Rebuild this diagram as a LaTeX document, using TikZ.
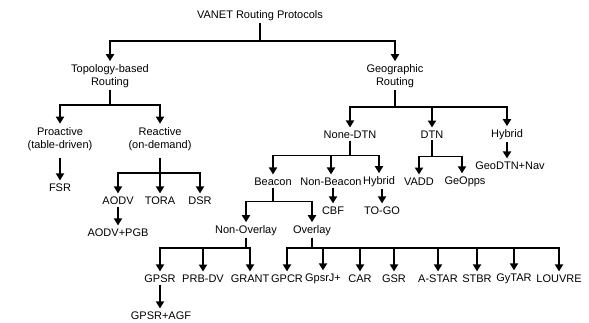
\documentclass[tikz,border=0pt]{standalone}
\usepackage{fontspec}
\setmainfont{Liberation Sans}
\usetikzlibrary{arrows.meta}

\begin{document}
\begin{tikzpicture}[x=1pt, y=-1pt,
                    lbl/.style={font=\fontsize{11}{13}\selectfont, inner sep=1.5pt, align=center},
                    link/.style={line width=1.8pt, shorten >=2pt, -{Triangle[width=8pt,length=7pt]}}
                ]
                    \useasboundingbox (0,0) rectangle (589,322);

                    \node[lbl] (root) at (260,16) {VANET Routing Protocols};
                    \node[lbl] (topo) at (110,76.5) {Topology-based\\Routing};
                    \node[lbl] (geo) at (395,76.5) {Geographic\\Routing};

                    \node[lbl] (pro) at (60,139) {Proactive\\(table-driven)};
                    \node[lbl] (rea) at (160,139) {Reactive\\(on-demand)};
                    \node[lbl] (fsr) at (60,188) {FSR};
                    \node[lbl] (aodv) at (118,201) {AODV};
                    \node[lbl] (tora) at (160,201) {TORA};
                    \node[lbl] (dsr) at (200,201) {DSR};
                    \node[lbl] (aodvpgb) at (118,233) {AODV+PGB};

                    \node[lbl] (nonedtn) at (350,135) {None-DTN};
                    \node[lbl] (dtn) at (432,135) {DTN};
                    \node[lbl] (hyb) at (507,135) {Hybrid};
                    \node[lbl] (geodtn) at (510,166) {GeoDTN+Nav};

                    \node[lbl] (beacon) at (273,182) {Beacon};
                    \node[lbl] (nonbeacon) at (331,182) {Non-Beacon};
                    \node[lbl] (hybrid) at (379,182) {Hybrid};
                    \node[lbl] (vadd) at (419,182) {VADD};
                    \node[lbl] (geopps) at (465,182) {GeOpps};
                    \node[lbl] (cbf) at (333,211) {CBF};
                    \node[lbl] (togo) at (382,211) {TO-GO};

                    \node[lbl] (nonov) at (246,231) {Non-Overlay};
                    \node[lbl] (ov) at (312,231) {Overlay};

                    \node[lbl] (gpsr) at (160,279) {GPSR};
                    \node[lbl] (prbdv) at (203,279) {PRB-DV};
                    \node[lbl] (grant) at (250,279) {GRANT};
                    \node[lbl] (gpcr) at (287,279) {GPCR};
                    \node[lbl] (gpsrj) at (323,279) {GpsrJ+};
                    \node[lbl] (car) at (360,279) {CAR};
                    \node[lbl] (gsr) at (394,279) {GSR};
                    \node[lbl] (astar) at (438,279) {A-STAR};
                    \node[lbl] (stbr) at (477,279) {STBR};
                    \node[lbl] (gytar) at (514,279) {GyTAR};
                    \node[lbl] (louvre) at (559,279) {LOUVRE};
                    \node[lbl] (gpsragf) at (161,316) {GPSR+AGF};

                    \draw[link] (root.south) -- ++(0,18) -| (topo.north);
                    \draw[link] (root.south) -- ++(0,18) -| (geo.north);

                    \draw[link] (topo.south) -- ++(0,15) -| (pro.north);
                    \draw[link] (topo.south) -- ++(0,15) -| (rea.north);
                    \draw[link] (pro.south) ++(0,6) -- (fsr.north);
                    \draw[link] (rea.south) ++(0,6) -- ++(0,15) -| (aodv.north);
                    \draw[link] (rea.south) ++(0,6) -- (tora.north);
                    \draw[link] (rea.south) ++(0,6) -- ++(0,15) -| (dsr.north);
                    \draw[link] (aodv.south) -- (aodv.south |- aodvpgb.north);

                    \draw[link] (geo.south) -- ++(0,17) -| (nonedtn.north);
                    \draw[link] (geo.south) -- ++(0,17) -| (dtn.north);
                    \draw[link] (geo.south) -- ++(0,17) -| (hyb.north);
                    \draw[link] (hyb.south) -- (hyb.south |- geodtn.north);

                    \draw[link] (nonedtn.south) -- ++(0,15) -| (beacon.north);
                    \draw[link] (nonedtn.south) -- ++(0,15) -| (nonbeacon.north);
                    \draw[link] (nonedtn.south) -- ++(0,15) -| (hybrid.north);
                    \draw[link] (dtn.south) -- ++(0,16) -| (vadd.north);
                    \draw[link] (dtn.south) -- ++(0,16) -| ([xshift=-3pt]geopps.north);
                    \draw[link] (cbf.north |- nonbeacon.south) -- (cbf.north);
                    \draw[link] (togo.north |- hybrid.south) -- (togo.north);

                    \draw[link] (beacon.south) -- ++(0,14) -| (nonov.north);
                    \draw[link] (beacon.south) -- ++(0,14) -| (ov.north);

                    \draw[link] (nonov.south) -- ++(0,10) -| (gpsr.north);
                    \draw[link] (nonov.south) -- ++(0,10) -| (prbdv.north);
                    \draw[link] (nonov.south) -- ++(0,10) -| (grant.north);
                    \foreach \leaf in {gpcr, gpsrj, car, gsr, astar, stbr, gytar, louvre}
                        \draw[link] (ov.south) -- ++(0,10) -| (\leaf.north);
                    \draw[link] (gpsr.south) -- (gpsr.south |- gpsragf.north);
                \end{tikzpicture}
\end{document}
